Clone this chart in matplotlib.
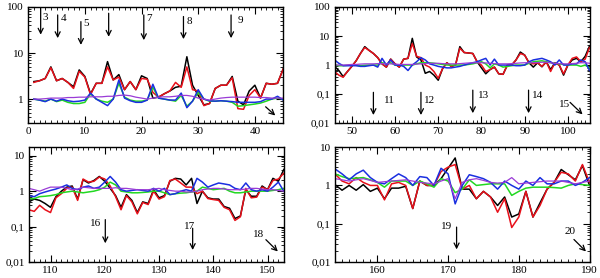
import matplotlib
matplotlib.use('Agg')
import matplotlib.pyplot as plt
from matplotlib.ticker import FuncFormatter, MultipleLocator, LogLocator, NullFormatter

plt.rcParams['font.family'] = ['Liberation Serif', 'DejaVu Serif']
plt.rcParams['font.size'] = 8

# ---- panel 1: x = 1..45
x1 = list(range(1, 46))
black1 = [2.4, 2.5, 2.8, 5.0, 2.5, 2.8, 2.3, 1.85, 4.3, 3.1, 1.3, 2.2, 2.2, 6.5, 2.6,
          3.4, 1.6, 2.4, 1.6, 3.2, 2.8, 1.05, 1.1, 1.3, 1.5, 1.8, 1.9, 8.3, 2.0, 1.2,
          0.75, 0.8, 1.7, 2.0, 2.0, 3.1, 0.9, 0.75, 1.5, 2.0, 1.05, 2.2, 2.1, 2.2, 4.5]
red1 = [2.3, 2.5, 2.8, 4.8, 2.5, 2.8, 2.3, 1.7, 4.0, 3.0, 1.25, 2.2, 2.2, 5.0, 2.6,
        3.0, 1.6, 2.4, 1.6, 2.8, 2.7, 1.4, 1.1, 1.3, 1.5, 2.3, 1.8, 5.0, 1.6, 1.5,
        0.72, 0.8, 1.7, 2.0, 2.0, 2.9, 0.62, 0.6, 1.2, 1.6, 1.05, 2.2, 2.1, 2.2, 4.5]
green1 = [1.0, 0.95, 0.9, 1.0, 0.88, 0.95, 0.85, 0.8, 0.8, 0.85, 1.3, 1.0, 0.9, 0.85, 1.0,
          2.2, 1.1, 0.95, 0.9, 0.9, 0.95, 1.8, 1.05, 1.0, 0.95, 0.9, 1.2, 0.7, 0.9, 1.4,
          1.0, 0.9, 0.9, 0.92, 0.9, 0.85, 0.7, 0.72, 0.75, 0.78, 0.82, 0.9, 1.0, 1.05, 1.0]
blue1 = [1.0, 0.95, 0.88, 1.0, 0.9, 1.0, 0.92, 0.88, 0.9, 0.95, 1.35, 1.0, 0.85, 0.72, 1.0,
         2.6, 1.05, 0.92, 0.85, 0.85, 0.95, 2.1, 1.05, 1.0, 0.95, 0.95, 1.35, 0.65, 0.9, 1.6,
         1.0, 0.92, 0.9, 0.92, 0.9, 0.88, 0.85, 0.85, 0.85, 0.85, 0.88, 1.0, 1.0, 1.15, 0.95]
purple1 = [1.0, 1.0, 1.02, 1.05, 1.05, 1.05, 1.08, 1.08, 1.1, 1.1, 1.12, 1.12, 1.12, 1.15, 1.15,
           1.2, 1.22, 1.18, 1.1, 1.05, 1.0, 1.05, 1.1, 1.12, 1.12, 1.15, 1.2, 1.2, 1.15, 1.05,
           1.0, 0.95, 1.0, 1.05, 1.08, 1.1, 1.1, 1.1, 1.1, 1.1, 1.08, 1.08, 1.05, 1.05, 1.05]

# ---- panel 2: x = 46..105
x2 = list(range(46, 106))
black2 = [0.9, 0.65, 0.4, 0.6, 0.9, 1.4, 2.5, 4.3, 3.2, 2.5, 1.8, 1.1, 0.85, 1.6, 1.1,
          0.85, 1.6, 1.7, 8.3, 1.9, 1.5, 0.52, 0.6, 0.45, 0.3, 0.75, 1.2, 0.9, 1.0, 4.3,
          2.7, 2.6, 2.5, 1.3, 0.8, 0.5, 0.7, 0.85, 0.5, 0.48, 1.0, 1.0, 1.5, 2.8, 2.2,
          1.2, 0.85, 1.2, 0.87, 1.3, 0.7, 1.2, 1.0, 0.45, 1.0, 1.5, 1.7, 1.3, 2.0, 4.5]
red2 = [0.6, 0.45, 0.38, 0.6, 0.9, 1.4, 2.5, 4.0, 3.2, 2.5, 1.8, 1.1, 0.85, 1.6, 1.1,
        0.85, 1.6, 1.7, 5.5, 2.0, 1.8, 1.0, 0.85, 0.6, 0.35, 0.75, 1.2, 0.9, 1.0, 3.8,
        2.7, 2.6, 2.5, 1.3, 1.0, 0.6, 0.7, 0.85, 0.5, 0.48, 1.0, 1.0, 1.5, 2.5, 2.2,
        1.2, 1.1, 1.2, 0.9, 1.3, 0.6, 1.2, 1.0, 0.5, 1.0, 1.7, 1.9, 1.3, 1.6, 4.0]
green2 = [1.0, 0.95, 0.95, 0.98, 1.0, 0.98, 0.95, 0.98, 1.0, 1.0, 1.0, 1.2, 1.1, 1.2, 1.0,
          1.0, 1.0, 1.0, 1.0, 1.1, 1.2, 1.2, 1.2, 1.15, 1.1, 1.05, 1.0, 1.0, 1.0, 1.0,
          1.0, 1.05, 1.1, 1.2, 1.3, 1.1, 0.8, 1.1, 1.0, 0.85, 0.9, 0.95, 1.0, 1.0, 1.0,
          1.15, 1.3, 1.35, 1.4, 1.3, 1.2, 1.15, 1.1, 1.05, 1.0, 1.0, 1.0, 0.9, 1.0, 0.8]
blue2 = [1.5, 1.15, 0.95, 0.95, 0.95, 0.95, 0.9, 0.9, 0.95, 1.0, 0.85, 1.7, 1.0, 1.5, 1.0,
         1.0, 0.9, 0.65, 1.0, 1.3, 1.8, 1.5, 1.1, 1.0, 0.9, 0.85, 0.8, 0.8, 0.85, 0.9,
         1.0, 1.1, 1.2, 1.3, 1.5, 1.7, 1.0, 1.6, 1.0, 1.0, 1.0, 1.0, 0.95, 0.95, 1.0,
         1.3, 1.5, 1.6, 1.7, 1.5, 1.3, 1.0, 1.5, 1.0, 1.0, 1.1, 1.1, 1.5, 1.3, 0.65]
purple2 = [1.0, 1.0, 1.0, 1.02, 1.05, 1.05, 1.08, 1.1, 1.1, 1.1, 1.12, 1.12, 1.1, 1.1, 1.08,
           1.05, 1.05, 1.05, 1.05, 1.08, 1.1, 1.12, 1.15, 1.15, 1.15, 1.12, 1.1, 1.1, 1.1, 1.12,
           1.15, 1.18, 1.2, 1.2, 1.2, 1.18, 1.15, 1.12, 1.1, 1.1, 1.1, 1.12, 1.15, 1.18, 1.2,
           1.2, 1.2, 1.22, 1.25, 1.25, 1.2, 1.15, 1.12, 1.1, 1.1, 1.12, 1.15, 1.2, 1.2, 1.15]

# ---- panel 3: x = 106..153
x3 = list(range(106, 154))
black3 = [0.5, 0.6, 0.55, 0.45, 0.35, 0.7, 1.0, 1.3, 1.4, 0.6, 2.1, 1.7, 2.0, 2.6, 1.9,
          1.2, 0.75, 0.35, 0.8, 0.55, 0.25, 0.5, 0.45, 1.1, 0.65, 0.75, 1.9, 2.3, 2.2, 1.5,
          2.3, 0.45, 1.0, 0.65, 0.6, 0.6, 0.37, 0.33, 0.17, 0.2, 1.1, 0.72, 0.72, 1.4, 1.1,
          2.3, 1.9, 4.1]
red3 = [0.3, 0.27, 0.4, 0.3, 0.25, 0.65, 0.85, 1.2, 1.3, 0.55, 2.2, 1.8, 1.9, 2.5, 2.2,
        1.4, 0.7, 0.3, 0.75, 0.5, 0.23, 0.48, 0.42, 1.0, 0.6, 0.7, 2.0, 2.2, 1.7, 1.3,
        1.3, 0.85, 1.0, 0.62, 0.58, 0.55, 0.35, 0.3, 0.15, 0.19, 1.2, 0.65, 0.68, 1.3, 1.1,
        2.0, 2.2, 3.2]
green3 = [0.6, 0.62, 0.7, 0.72, 0.75, 0.8, 0.9, 0.95, 1.0, 0.95, 0.9, 0.95, 1.0, 1.1, 1.3,
          1.8, 1.5, 1.0, 0.95, 0.9, 0.9, 0.92, 0.95, 1.0, 1.0, 0.9, 0.8, 0.85, 0.88, 0.9,
          0.95, 1.0, 1.3, 1.2, 1.1, 1.15, 1.2, 1.0, 0.9, 0.9, 0.95, 1.0, 1.0, 1.0, 1.0,
          1.05, 1.1, 1.2]
blue3 = [0.75, 0.7, 0.85, 0.95, 1.05, 1.15, 1.3, 1.5, 1.2, 1.1, 1.3, 1.4, 1.2, 1.3, 1.8,
         2.6, 1.8, 1.1, 1.0, 1.05, 1.1, 1.05, 1.0, 1.2, 1.0, 1.2, 0.8, 0.85, 1.0, 1.1,
         1.0, 2.3, 1.8, 1.3, 1.5, 1.7, 1.6, 1.5, 1.2, 1.1, 1.7, 1.1, 1.0, 1.1, 1.0,
         1.3, 1.8, 1.0]
purple3 = [1.2, 1.1, 1.0, 1.15, 1.3, 1.3, 1.3, 1.2, 1.1, 1.15, 1.3, 1.25, 1.2, 1.2, 1.2,
           1.2, 1.25, 1.2, 1.2, 1.15, 1.1, 1.1, 1.1, 1.15, 1.2, 1.1, 1.05, 1.0, 1.0, 0.95,
           0.95, 1.0, 1.1, 1.15, 1.2, 1.2, 1.15, 1.1, 1.1, 1.1, 1.15, 1.2, 1.2, 1.15, 1.1,
           1.1, 1.05, 1.0]

# ---- panel 4: x = 154..190
x4 = list(range(154, 191))
black4 = [1.05, 0.75, 1.0, 0.75, 1.05, 0.7, 0.85, 0.45, 0.85, 0.85, 0.95, 0.25, 1.3, 1.0, 1.0,
          1.5, 2.8, 5.2, 0.8, 0.8, 0.45, 0.7, 0.5, 0.3, 0.5, 0.15, 0.18, 0.7, 0.15, 0.35,
          0.8, 1.2, 2.6, 1.9, 1.4, 3.3, 1.0]
red4 = [2.0, 1.3, 1.1, 1.6, 1.2, 1.0, 1.0, 0.42, 1.1, 1.2, 1.0, 0.25, 1.3, 1.0, 1.0,
        2.3, 3.0, 3.5, 0.8, 1.0, 0.45, 0.7, 0.5, 0.2, 0.45, 0.08, 0.15, 0.7, 0.15, 0.3,
        0.8, 1.2, 2.2, 2.0, 1.3, 3.5, 1.2]
green4 = [2.0, 1.7, 1.5, 1.55, 1.6, 1.4, 1.2, 0.9, 1.3, 1.3, 1.3, 1.0, 1.3, 1.1, 0.9,
          1.5, 1.3, 0.65, 0.8, 1.4, 1.0, 1.05, 1.1, 1.1, 1.1, 0.55, 0.7, 0.85, 0.9, 0.9,
          0.9, 0.88, 0.85, 1.0, 1.1, 1.05, 1.0]
blue4 = [2.7, 2.0, 1.4, 2.0, 2.5, 1.6, 1.2, 1.1, 1.5, 2.0, 1.6, 1.0, 1.7, 1.6, 1.0,
         2.8, 2.0, 0.33, 1.0, 1.9, 1.7, 1.5, 1.2, 0.8, 1.3, 1.0, 0.8, 1.3, 1.0, 1.6,
         1.1, 1.1, 1.3, 1.3, 1.0, 1.2, 1.6]
purple4 = [1.5, 1.4, 1.3, 1.4, 1.5, 1.35, 1.2, 1.25, 1.3, 1.35, 1.4, 1.3, 1.2, 1.15, 1.1,
           1.3, 1.5, 0.45, 1.2, 1.4, 1.5, 1.35, 1.2, 1.15, 1.2, 1.6, 1.1, 1.15, 1.2, 1.25,
           1.3, 1.3, 1.3, 1.2, 1.1, 1.2, 1.3]

# arrows: (label, tail x, tail y, head x, head y, label x, label y, ha)
arrows1 = [('3', 2.2, 93, 2.2, 25, 2.6, 60, 'left'),
           ('4', 5.2, 67, 5.2, 21, 5.7, 55, 'left'),
           ('5', 9.3, 48, 9.3, 15, 9.8, 44, 'left'),
           ('', 14.2, 73, 14.2, 22.5, 0, 0, 'left'),
           ('7', 20.4, 67, 20.4, 19, 20.9, 57, 'left'),
           ('8', 27.4, 62, 27.4, 20, 27.9, 48, 'left'),
           ('9', 35.8, 67, 35.8, 21, 37.0, 52, 'left'),
           ('', 41.9, 0.68, 43.6, 0.44, 0, 0, 'left')]
arrows2 = [('11', 55.0, 0.115, 55.0, 0.019, 57.5, 0.062, 'left'),
           ('12', 66.0, 0.115, 66.0, 0.019, 66.6, 0.062, 'left'),
           ('13', 78.0, 0.137, 78.0, 0.022, 79.2, 0.092, 'left'),
           ('14', 90.9, 0.137, 90.9, 0.022, 91.6, 0.092, 'left'),
           ('15', 100.5, 0.052, 103.4, 0.02, 100.6, 0.045, 'right')]
arrows3 = [('16', 120.1, 0.158, 120.1, 0.034, 119.3, 0.12, 'right'),
           ('17', 136.2, 0.09, 136.2, 0.022, 136.6, 0.10, 'right'),
           ('18', 149.7, 0.043, 151.9, 0.02, 149.3, 0.06, 'right')]
arrows4 = [('19', 171.2, 0.082, 171.2, 0.0215, 170.6, 0.083, 'right'),
           ('20', 187.8, 0.039, 189.5, 0.019, 188.0, 0.062, 'right')]

panels = [
    (x1, black1, red1, green1, blue1, purple1, (0, 45), (0.3, 100), arrows1, [0.047, 0.557, 0.425, 0.418]),
    (x2, black2, red2, green2, blue2, purple2, (46, 105), (0.01, 100), arrows2, [0.5575, 0.557, 0.425, 0.418]),
    (x3, black3, red3, green3, blue3, purple3, (106, 153), (0.01, 17.5), arrows3, [0.048, 0.057, 0.425, 0.414]),
    (x4, black4, red4, green4, blue4, purple4, (154, 190), (0.01, 10), arrows4, [0.5583, 0.057, 0.4242, 0.414]),
]

colors = ['black', '#e8101a', '#22d822', '#1a2fe0', '#9a3bd6']


def comma_fmt(v, pos):
    return ('%g' % v).replace('.', ',')


fig = plt.figure(figsize=(6.0, 2.78), dpi=100)
for x, bk, rd, gr, bl, pu, xlim, ylim, arrows, rect in panels:
    ax = fig.add_axes(rect)
    ax.plot(x, bk, color=colors[0], lw=1.1)
    ax.plot(x, rd, color=colors[1], lw=1.1)
    ax.plot(x, gr, color=colors[2], lw=1.1)
    ax.plot(x, bl, color=colors[3], lw=1.1)
    ax.plot(x, pu, color=colors[4], lw=0.9)
    ax.set_yscale('log')
    ax.set_xlim(*xlim)
    ax.set_ylim(*ylim)
    ax.xaxis.set_major_locator(MultipleLocator(10))
    ax.xaxis.set_minor_locator(MultipleLocator(1))
    ax.yaxis.set_major_locator(LogLocator(base=10, numticks=10))
    ax.yaxis.set_minor_locator(LogLocator(base=10, subs=range(2, 10), numticks=20))
    ax.yaxis.set_major_formatter(FuncFormatter(comma_fmt))
    ax.yaxis.set_minor_formatter(NullFormatter())
    ax.tick_params(which='both', direction='in', top=True, right=True, labelsize=8, pad=3)
    ax.tick_params(which='major', length=5, width=0.8)
    ax.tick_params(which='minor', length=2.5, width=0.6)
    for s in ax.spines.values():
        s.set_linewidth(1.0)
    for lab, tx, ty, hx, hy, lx, ly, ha in arrows:
        ax.annotate('', xy=(hx, hy), xytext=(tx, ty),
                    arrowprops=dict(arrowstyle='->', lw=0.9, color='black',
                                    shrinkA=0, shrinkB=0, mutation_scale=9))
        if lab:
            ax.text(lx, ly, lab, ha=ha, va='center', fontsize=8)

fig.savefig('out.png', dpi=100)
